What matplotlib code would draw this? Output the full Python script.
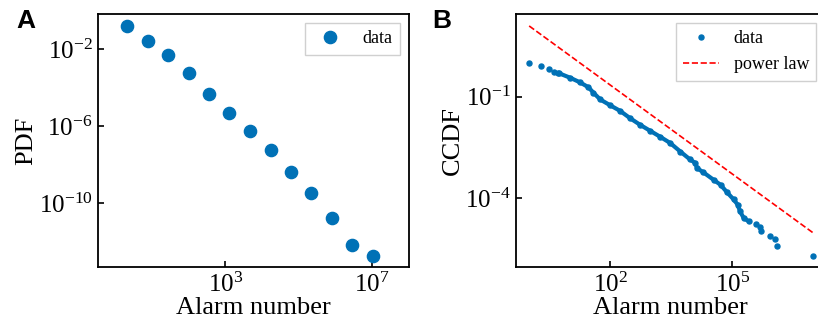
import numpy as np
import matplotlib
matplotlib.use('Agg')
import matplotlib.pyplot as plt
from matplotlib.ticker import NullLocator

plt.rcParams['font.family'] = ['Liberation Serif', 'DejaVu Serif']
plt.rcParams['mathtext.fontset'] = 'stix'

# panel A: binned PDF
pdf_x = [2.0, 7.6, 27.5, 100, 355, 1290, 4680, 1.74e4, 6.31e4, 2.19e5, 8.13e5, 2.95e6, 1.07e7]
pdf_y = [0.162, 2.8e-2, 5.2e-3, 5.9e-4, 4.7e-5, 5.0e-6, 6.0e-7, 5.6e-8, 4.3e-9,
         3.5e-10, 1.6e-11, 6.5e-13, 1.8e-13]

# panel B: CCDF (head, dense middle part, tail)
ccdf_head_x = [1, 2, 3, 4, 5]
ccdf_head_y = [1.0, 0.805, 0.645, 0.55, 0.49]
ccdf_mid_x = [5.5, 10.2, 17.8, 28.8, 38, 56, 98, 174, 309, 537, 955, 1660, 2950, 5250,
              9120, 1.23e4, 1.35e4, 1.95e4, 3.47e4, 5.13e4, 7.41e4, 1.07e5, 1.35e5,
              1.55e5, 1.91e5, 2.51e5]
ccdf_mid_y = [0.49, 0.363, 0.266, 0.19, 0.132, 0.083, 0.056, 0.038, 0.0229, 0.0148,
              0.0098, 0.0066, 0.0043, 0.0024, 0.0014, 0.0011, 7.8e-4, 5.8e-4, 3.5e-4,
              2.5e-4, 1.5e-4, 9.3e-5, 6.5e-5, 4.1e-5, 2.6e-5, 2.1e-5]
ccdf_tail_x = [3.89e5, 4.68e5, 5.13e5, 8.32e5, 1.15e6, 1.29e6, 9.8e6]
ccdf_tail_y = [1.7e-5, 1.4e-5, 1.05e-5, 7.8e-6, 6.2e-6, 4.0e-6, 2.0e-6]

# power-law guide line endpoints
pl_x = [1, 1e7]
pl_y = [12.3, 9.3e-6]

blue = '#0071b6'

fig = plt.figure(figsize=(8.18, 3.28), dpi=100)
axA = fig.add_axes([0.120, 0.186, 0.380, 0.771])
# right panel runs slightly past the figure edge (cropped in the original)
axB = fig.add_axes([0.631, 0.186, 0.378, 0.771])

axA.plot(pdf_x, pdf_y, 'o', color=blue, ms=8.8, label='data')
axA.set_xscale('log')
axA.set_yscale('log')
axA.set_xlim(10**-0.48, 10**8.02)
axA.set_ylim(10**-13.33, 10**-0.16)
axA.set_xticks([1e3, 1e7])
axA.set_yticks([1e-2, 1e-6, 1e-10])
axA.set_xlabel('Alarm number', fontsize=19, labelpad=0)
axA.set_ylabel('PDF', fontsize=19, labelpad=1)

axB.plot(ccdf_mid_x, ccdf_mid_y, '-', color=blue, lw=3.0, solid_capstyle='round')
allx = ccdf_head_x + ccdf_mid_x + ccdf_tail_x
ally = ccdf_head_y + ccdf_mid_y + ccdf_tail_y
axB.plot(allx, ally, 'o', color=blue, ms=3.6, label='data')
axB.plot(pl_x, pl_y, '--', color='red', lw=1.2, label='power law')
axB.set_xscale('log')
axB.set_yscale('log')
axB.set_xlim(10**-0.32, 10**7.29)
axB.set_ylim(10**-6.03, 10**1.44)
axB.set_xticks([1e2, 1e5])
axB.set_yticks([1e-1, 1e-4])
axB.set_xlabel('Alarm number', fontsize=19, labelpad=0)
axB.set_ylabel('CCDF', fontsize=19, labelpad=1)

for ax in (axA, axB):
    ax.xaxis.set_minor_locator(NullLocator())
    ax.yaxis.set_minor_locator(NullLocator())
    ax.tick_params(direction='in', labelsize=18, length=4, width=1.2, pad=4)
    for s in ax.spines.values():
        s.set_linewidth(1.3)
    ax.legend(loc='upper right', fontsize=13, fancybox=False, edgecolor='#d0d0d0',
              framealpha=1, numpoints=1)

fig.text(0.031, 0.936, 'A', fontsize=19, fontweight='bold', family='Liberation Sans',
         ha='center', va='center')
fig.text(0.540, 0.936, 'B', fontsize=19, fontweight='bold', family='Liberation Sans',
         ha='center', va='center')

fig.savefig('out.png', dpi=100)
